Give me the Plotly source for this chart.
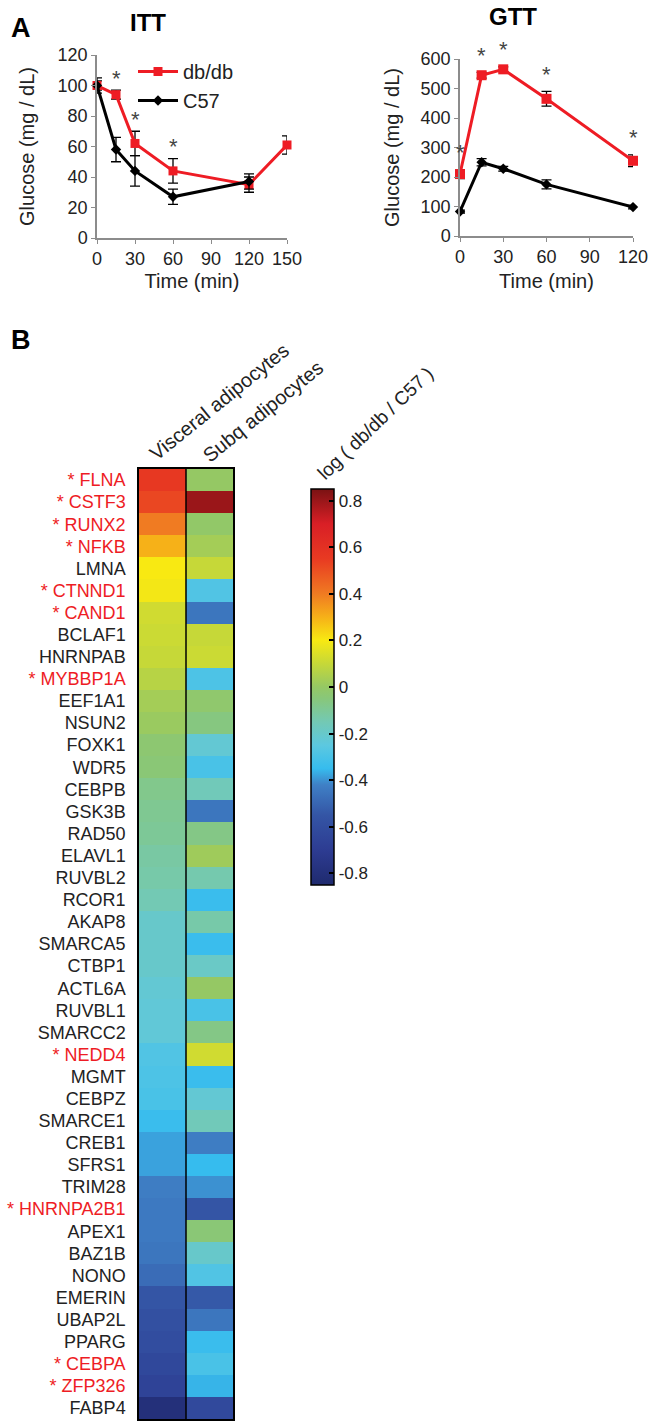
import plotly.graph_objects as go

W, H = 650, 1422
FONT = "Arial, Liberation Sans, sans-serif"

# ---------- ITT data ----------
itt_time_db = [0, 15, 30, 60, 120, 150]
itt_db = [100, 94, 62, 44, 35, 61]
itt_db_err = [3, 3, 8, 8, 5, 6]
itt_time_c57 = [0, 15, 30, 60, 120]
itt_c57 = [100, 58, 44, 27, 37]
itt_c57_err = [5, 8, 10, 5, 5]
itt_sig_times = [15, 30, 60]

# ---------- GTT data ----------
gtt_time = [0, 15, 30, 60, 120]
gtt_db = [210, 545, 565, 465, 255]
gtt_db_err = [15, 10, 8, 25, 20]
gtt_c57 = [83, 250, 228, 175, 98]
gtt_c57_err = [5, 12, 8, 15, 6]
gtt_sig_times = [0, 15, 30, 60, 120]

# ---------- Heatmap data ----------
genes = ["FLNA", "CSTF3", "RUNX2", "NFKB", "LMNA", "CTNND1", "CAND1", "BCLAF1",
         "HNRNPAB", "MYBBP1A", "EEF1A1", "NSUN2", "FOXK1", "WDR5", "CEBPB", "GSK3B",
         "RAD50", "ELAVL1", "RUVBL2", "RCOR1", "AKAP8", "SMARCA5", "CTBP1", "ACTL6A",
         "RUVBL1", "SMARCC2", "NEDD4", "MGMT", "CEBPZ", "SMARCE1", "CREB1", "SFRS1",
         "TRIM28", "HNRNPA2B1", "APEX1", "BAZ1B", "NONO", "EMERIN", "UBAP2L", "PPARG",
         "CEBPA", "ZFP326", "FABP4"]
significant = ["FLNA", "CSTF3", "RUNX2", "NFKB", "CTNND1", "CAND1", "MYBBP1A",
               "NEDD4", "HNRNPA2B1", "CEBPA", "ZFP326"]
columns = ["Visceral adipocytes", "Subq adipocytes"]
visceral = [0.56, 0.52, 0.40, 0.30, 0.20, 0.19, 0.12, 0.11, 0.10, 0.07, 0.03, 0.01,
            -0.03, -0.04, -0.08, -0.09, -0.10, -0.12, -0.13, -0.15, -0.20, -0.20,
            -0.20, -0.22, -0.23, -0.23, -0.28, -0.29, -0.30, -0.34, -0.38, -0.38,
            -0.43, -0.44, -0.44, -0.45, -0.48, -0.55, -0.58, -0.60, -0.63, -0.66, -0.80]
subq = [0.00, 0.80, -0.01, 0.03, 0.10, -0.28, -0.45, 0.10, 0.11, -0.29, -0.02, -0.06,
        -0.22, -0.30, -0.16, -0.45, -0.07, 0.02, -0.14, -0.34, -0.13, -0.34, -0.19,
        0.00, -0.30, -0.07, 0.12, -0.34, -0.22, -0.16, -0.43, -0.35, -0.40, -0.55,
        -0.04, -0.20, -0.28, -0.54, -0.45, -0.34, -0.30, -0.36, -0.62]
cbar_ticks = [0.8, 0.6, 0.4, 0.2, 0, -0.2, -0.4, -0.6, -0.8]

RED = "#ee1c24"
BLACK = "#000000"
AXC = "#8c8c8c"
TXT = "#222222"

def py(px):
    return 1 - px / H

def pxx(px):
    return px / W

fig = go.Figure()

# ITT traces
fig.add_trace(go.Scatter(
    x=itt_time_db, y=itt_db, name="db/db", mode="lines+markers",
    line=dict(color=RED, width=3), marker=dict(symbol="square", size=9, color=RED),
    error_y=dict(type="data", array=itt_db_err, color=BLACK, thickness=1.3, width=5),
    xaxis="x", yaxis="y", cliponaxis=False))
fig.add_trace(go.Scatter(
    x=itt_time_c57, y=itt_c57, name="C57", mode="lines+markers",
    line=dict(color=BLACK, width=3), marker=dict(symbol="diamond", size=8, color=BLACK),
    error_y=dict(type="data", array=itt_c57_err, color=BLACK, thickness=1.3, width=5),
    xaxis="x", yaxis="y", cliponaxis=False))

# GTT traces
fig.add_trace(go.Scatter(
    x=gtt_time, y=gtt_db, name="db/db", mode="lines+markers", showlegend=False,
    line=dict(color=RED, width=3), marker=dict(symbol="square", size=10, color=RED),
    error_y=dict(type="data", array=gtt_db_err, color=BLACK, thickness=1.3, width=5),
    xaxis="x2", yaxis="y2", cliponaxis=False))
fig.add_trace(go.Scatter(
    x=gtt_time, y=gtt_c57, name="C57", mode="lines+markers", showlegend=False,
    line=dict(color=BLACK, width=3), marker=dict(symbol="diamond", size=8, color=BLACK),
    error_y=dict(type="data", array=gtt_c57_err, color=BLACK, thickness=1.3, width=5),
    xaxis="x2", yaxis="y2", cliponaxis=False))

# Heatmap
colorscale = [
    [0.00, "#1f2a6e"],
    [0.088, "#2d3c92"],
    [0.176, "#3455a5"],
    [0.253, "#3f80c6"],
    [0.294, "#36bcee"],
    [0.353, "#5cc8e0"],
    [0.412, "#73c9b4"],
    [0.471, "#88c77a"],
    [0.50, "#95c864"],
    [0.559, "#c6d838"],
    [0.618, "#f8e912"],
    [0.676, "#f6b118"],
    [0.735, "#f07b22"],
    [0.824, "#e83a22"],
    [0.912, "#d91f26"],
    [1.00, "#7a1213"],
]
z = [[v, s] for v, s in zip(visceral, subq)]
ticktext = [
    (f'<span style="color:{RED}">* {g}</span>' if g in significant else g)
    for g in genes
]
fig.add_trace(go.Heatmap(
    z=z, x=[0, 1], y=list(range(len(genes))),
    colorscale=colorscale, zmin=-0.85, zmax=0.85,
    xaxis="x3", yaxis="y3", xgap=0, ygap=0,
    colorbar=dict(
        x=pxx(311), xanchor="left", xref="paper",
        y=py(687), yanchor="middle", yref="paper",
        len=396, lenmode="pixels", thickness=23, thicknessmode="pixels",
        outlinewidth=1.5, outlinecolor=BLACK, xpad=0, ypad=0,
        tickvals=cbar_ticks, ticktext=[("%g" % t) for t in cbar_ticks],
        ticks="inside", ticklen=5, tickcolor=BLACK, tickwidth=1.5,
        tickfont=dict(family=FONT, size=17, color=TXT),
    ),
    hoverinfo="skip"))

axis_common = dict(showline=True, linecolor=AXC, linewidth=1.5, ticks="outside",
                   tickcolor=AXC, ticklen=4, showgrid=False, zeroline=False,
                   automargin=False,
                   tickfont=dict(family=FONT, size=18, color=TXT),
                   title_font=dict(family=FONT, size=20, color=TXT))

fig.update_layout(
    width=W, height=H,
    margin=dict(l=0, r=0, t=0, b=0, pad=0, autoexpand=False),
    paper_bgcolor="white", plot_bgcolor="white",
    font=dict(family=FONT, color=TXT),
    showlegend=True,
    legend=dict(x=pxx(133), y=py(52), xanchor="left", yanchor="top",
                bgcolor="rgba(0,0,0,0)", font=dict(family=FONT, size=20, color=TXT),
                tracegroupgap=0, itemwidth=40),
    xaxis=dict(domain=[pxx(97), pxx(287)], range=[0, 150], tickvals=[0, 30, 60, 90, 120, 150],
               anchor="y", title=dict(text="Time (min)", standoff=6), **axis_common),
    yaxis=dict(domain=[py(238), py(55)], range=[0, 120], tickvals=[0, 20, 40, 60, 80, 100, 120],
               anchor="x", title=dict(text="Glucose (mg / dL)", standoff=18), **axis_common),
    xaxis2=dict(domain=[pxx(460), pxx(633)], range=[0, 120], tickvals=[0, 30, 60, 90, 120],
                anchor="y2", title=dict(text="Time (min)", standoff=8), **axis_common),
    yaxis2=dict(domain=[py(236), py(59)], range=[0, 600],
                tickvals=[0, 100, 200, 300, 400, 500, 600],
                anchor="x2", title=dict(text="Glucose (mg / dL)", standoff=16), **axis_common),
    xaxis3=dict(domain=[pxx(139), pxx(233)], range=[-0.5, 1.5], side="top",
                tickvals=[0, 1], showticklabels=False, ticks="",
                showline=True, mirror=True, linecolor=BLACK, linewidth=1.5,
                showgrid=False, zeroline=False, anchor="y3", automargin=False),
    yaxis3=dict(domain=[py(1419), py(469)], range=[len(genes) - 0.5, -0.5],
                tickvals=list(range(len(genes))), ticktext=ticktext, ticks="",
                showline=True, mirror=True, linecolor=BLACK, linewidth=1.5,
                showgrid=False, zeroline=False, anchor="x3", ticklabelstandoff=8,
                automargin=False,
                tickfont=dict(family=FONT, size=18, color=TXT)),
)

# divider between heatmap columns
fig.add_shape(type="line", xref="x3", yref="y3", x0=0.5, x1=0.5,
              y0=-0.5, y1=len(genes) - 0.5, line=dict(color=BLACK, width=1.5))

ann = []
# significance asterisks
for t in itt_sig_times:
    i = itt_time_db.index(t)
    ann.append(dict(x=t, y=itt_db[i] + itt_db_err[i], xref="x", yref="y", text="*",
                    showarrow=False, xanchor="center", yanchor="middle", yshift=12,
                    font=dict(family=FONT, size=22, color="#444444")))
for t in gtt_sig_times:
    i = gtt_time.index(t)
    ann.append(dict(x=t, y=gtt_db[i] + gtt_db_err[i], xref="x2", yref="y2", text="*",
                    showarrow=False, xanchor="center", yanchor="middle", yshift=17,
                    font=dict(family=FONT, size=22, color="#444444")))
# column headers (rotated)
header_pos = [(142, 467), (196, 469)]
for name, (hx, hy) in zip(columns, header_pos):
    ann.append(dict(x=pxx(hx), y=py(hy), xref="paper", yref="paper", text=name,
                    showarrow=False, textangle=-39, xanchor="left", yanchor="bottom",
                    font=dict(family=FONT, size=20, color=TXT)))
# titles and panel letters
ann += [
    dict(x=pxx(148), y=py(23), xref="paper", yref="paper", text="<b>ITT</b>",
         showarrow=False, xanchor="center", yanchor="middle",
         font=dict(family=FONT, size=24, color=BLACK)),
    dict(x=pxx(513), y=py(16), xref="paper", yref="paper", text="<b>GTT</b>",
         showarrow=False, xanchor="center", yanchor="middle",
         font=dict(family=FONT, size=24, color=BLACK)),
    dict(x=pxx(21), y=py(28), xref="paper", yref="paper", text="<b>A</b>",
         showarrow=False, xanchor="center", yanchor="middle",
         font=dict(family=FONT, size=27, color=BLACK)),
    dict(x=pxx(21), y=py(340), xref="paper", yref="paper", text="<b>B</b>",
         showarrow=False, xanchor="center", yanchor="middle",
         font=dict(family=FONT, size=27, color=BLACK)),
    dict(x=pxx(375), y=py(423), xref="paper", yref="paper", text="log ( db/db / C57 )",
         showarrow=False, textangle=-44, xanchor="center", yanchor="middle",
         font=dict(family=FONT, size=19, color=TXT)),
]
fig.update_layout(annotations=ann)

fig.write_html("out.html", config={"displayModeBar": False},
               post_script="document.body.style.margin='0';")
